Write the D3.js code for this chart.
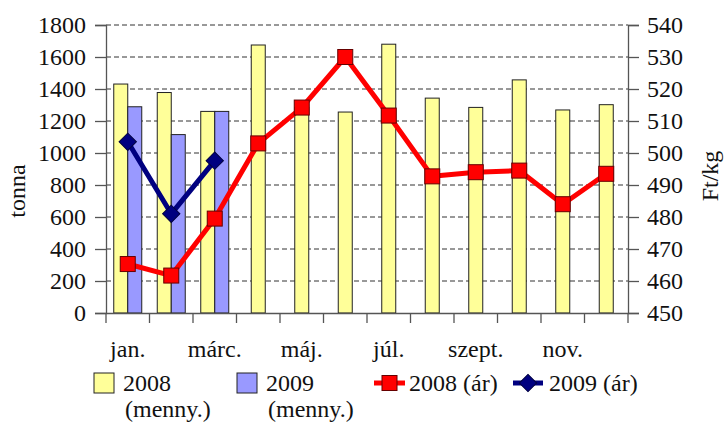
<!DOCTYPE html>
<html>
<head>
<meta charset="utf-8">
<script src="https://cdn.jsdelivr.net/npm/d3@7"></script>
<style>
  body { margin: 0; background: #fff; }
  svg text { font-family: "Liberation Serif", "Times New Roman", serif; fill: #111; }
</style>
</head>
<body>
<div id="chart"></div>
<script>
// Data
const months = ["jan.", "febr.", "márc.", "ápr.", "máj.", "jún.", "júl.", "aug.", "szept.", "okt.", "nov.", "dec."];
const qty2008 = [1431, 1378, 1260, 1675, 1285, 1256, 1680, 1343, 1285, 1457, 1269, 1302];
const qty2009 = [1289, 1115, 1260];
const price2008 = [465.3, 461.7, 479.5, 503, 514.2, 530, 511.7, 492.7, 494, 494.5, 484, 493.5];
const price2009 = [503.5, 481, 497.6];
const leftTicks = d3.range(0, 1801, 200);
const rightTicks = d3.range(450, 541, 10);

const W = 724, H = 423;
const margin = { top: 25, right: 96, bottom: 110, left: 106 };
const width = W - margin.left - margin.right;   // plot area
const height = H - margin.top - margin.bottom;
const fs = "24px";

const svg = d3.select("#chart").append("svg")
  .attr("width", W).attr("height", H);

const g = svg.append("g")
  .attr("transform", `translate(${margin.left},${margin.top})`);

// scales
const x = d3.scaleBand().domain(months).range([0, width]);
const yL = d3.scaleLinear().domain([0, 1800]).range([height, 0]);
const yR = d3.scaleLinear().domain([450, 540]).range([height, 0]);

// dashed gridlines
g.selectAll(".grid").data(leftTicks.slice(1)).enter().append("line")
  .attr("x1", 0).attr("x2", width)
  .attr("y1", d => yL(d)).attr("y2", d => yL(d))
  .attr("stroke", "#333").attr("stroke-width", 1)
  .attr("stroke-dasharray", "5,3");

// bars
const bw = 14;
g.selectAll(".b08").data(qty2008).enter().append("rect")
  .attr("x", (d, i) => x(months[i]) + x.bandwidth() / 2 - (i < qty2009.length ? bw : bw / 2))
  .attr("y", d => yL(d))
  .attr("width", bw)
  .attr("height", d => height - yL(d))
  .attr("fill", "#FFFF99").attr("stroke", "#222").attr("stroke-width", 1);

g.selectAll(".b09").data(qty2009).enter().append("rect")
  .attr("x", (d, i) => x(months[i]) + x.bandwidth() / 2)
  .attr("y", d => yL(d))
  .attr("width", bw)
  .attr("height", d => height - yL(d))
  .attr("fill", "#9999FF").attr("stroke", "#222").attr("stroke-width", 1);

// axes
const axisColor = "#555";
const leftAxis = g.append("g")
  .call(d3.axisLeft(yL).tickValues(leftTicks).tickFormat(d3.format("d")).tickSize(11).tickPadding(9));
const rightAxis = g.append("g").attr("transform", `translate(${width},0)`)
  .call(d3.axisRight(yR).tickValues(rightTicks).tickFormat(d3.format("d")).tickSize(11).tickPadding(8));
const bottomAxis = g.append("g").attr("transform", `translate(0,${height})`)
  .call(d3.axisBottom(x).tickValues([]).tickSizeOuter(0));

// month boundary ticks
g.selectAll(".mt").data(d3.range(months.length + 1)).enter().append("line")
  .attr("x1", i => i * x.step()).attr("x2", i => i * x.step())
  .attr("y1", height).attr("y2", height + 10)
  .attr("stroke", axisColor).attr("stroke-width", 1.3);

// month labels, every other
g.selectAll(".ml").data(months.filter((m, i) => i % 2 === 0)).enter().append("text")
  .attr("x", d => x(d) + x.bandwidth() / 2)
  .attr("y", height + 44)
  .attr("text-anchor", "middle")
  .style("font-size", fs)
  .text(d => d);

[leftAxis, rightAxis, bottomAxis].forEach(a => {
  a.attr("font-family", null).attr("font-size", null);
  a.selectAll("path.domain").attr("stroke", axisColor).attr("stroke-width", 1.3);
  a.selectAll(".tick line").attr("stroke", axisColor).attr("stroke-width", 1.3);
  a.selectAll(".tick text").style("font-size", fs).attr("fill", "#111");
});

// axis titles
svg.append("text")
  .attr("transform", `translate(25,191) rotate(-90)`)
  .attr("text-anchor", "middle")
  .style("font-size", fs)
  .text("tonna");
svg.append("text")
  .attr("transform", `translate(718,176) rotate(-90)`)
  .attr("text-anchor", "middle")
  .style("font-size", fs)
  .text("Ft/kg");

// price lines
const cx = i => x(months[i]) + x.bandwidth() / 2;
const line = d3.line().x((d, i) => cx(i)).y(d => yR(d));

g.append("path").datum(price2008)
  .attr("d", line).attr("fill", "none")
  .attr("stroke", "#FF0000").attr("stroke-width", 5).attr("stroke-linejoin", "round");
g.selectAll(".m08").data(price2008).enter().append("rect")
  .attr("x", (d, i) => cx(i) - 7.5).attr("y", d => yR(d) - 7.5)
  .attr("width", 15).attr("height", 15)
  .attr("fill", "#FF0000").attr("stroke", "#600").attr("stroke-width", 1);

g.append("path").datum(price2009)
  .attr("d", line).attr("fill", "none")
  .attr("stroke", "#000080").attr("stroke-width", 5).attr("stroke-linejoin", "round");
const diamond = d3.symbol().type(d3.symbolSquare).size(150);
g.selectAll(".m09").data(price2009).enter().append("path")
  .attr("d", diamond)
  .attr("transform", (d, i) => `translate(${cx(i)},${yR(d)}) rotate(45)`)
  .attr("fill", "#000080").attr("stroke", "#000040").attr("stroke-width", 1);

// legend
const leg = svg.append("g");
const legY = 383;
leg.append("rect").attr("x", 94).attr("y", 373).attr("width", 20).attr("height", 20)
  .attr("fill", "#FFFF99").attr("stroke", "#222");
leg.append("text").attr("x", 123).attr("y", 391).style("font-size", fs).text("2008");
leg.append("text").attr("x", 125).attr("y", 417).style("font-size", fs).text("(menny.)");

leg.append("rect").attr("x", 237).attr("y", 373).attr("width", 20).attr("height", 20)
  .attr("fill", "#9999FF").attr("stroke", "#222");
leg.append("text").attr("x", 266).attr("y", 391).style("font-size", fs).text("2009");
leg.append("text").attr("x", 268).attr("y", 417).style("font-size", fs).text("(menny.)");

leg.append("line").attr("x1", 374).attr("x2", 405).attr("y1", legY).attr("y2", legY)
  .attr("stroke", "#FF0000").attr("stroke-width", 5);
leg.append("rect").attr("x", 382).attr("y", legY - 7.5).attr("width", 15).attr("height", 15)
  .attr("fill", "#FF0000").attr("stroke", "#600");
leg.append("text").attr("x", 409).attr("y", 391).style("font-size", fs).text("2008 (ár)");

leg.append("line").attr("x1", 513).attr("x2", 543).attr("y1", legY).attr("y2", legY)
  .attr("stroke", "#000080").attr("stroke-width", 5);
leg.append("path").attr("d", diamond)
  .attr("transform", `translate(528,${legY}) rotate(45)`)
  .attr("fill", "#000080").attr("stroke", "#000040");
leg.append("text").attr("x", 549).attr("y", 391).style("font-size", fs).text("2009 (ár)");
</script>
</body>
</html>
